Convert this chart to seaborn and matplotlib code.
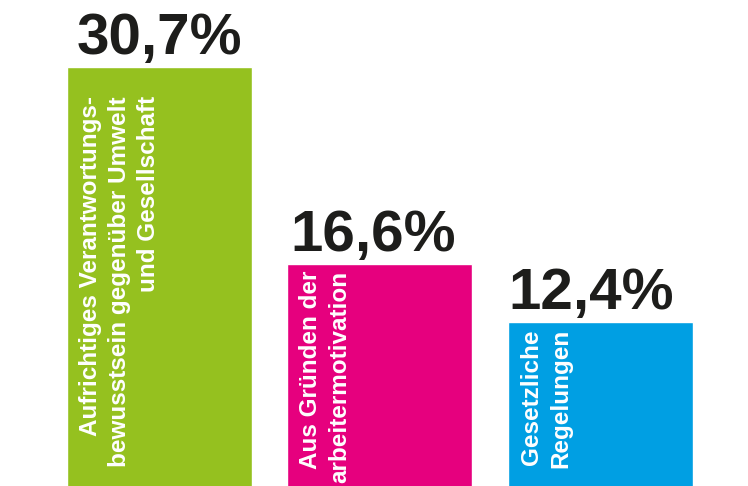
import matplotlib
matplotlib.use('Agg')
import matplotlib.pyplot as plt
import seaborn as sns

# data
categories = ['Aufrichtiges Verantwortungs-\nbewusstsein gegenüber Umwelt\nund Gesellschaft',
              'Aus Gründen der\narbeitermotivation',
              'Gesetzliche\nRegelungen']
values = [30.7, 16.6, 12.4]
colors = ['#95C11F', '#E6007E', '#009FE3']
# how far below the bar top the rotated label starts (points)
inner_drop = [21, 5, 5]
# small horizontal nudge of the value labels (points)
label_shift = [0, -5, -6.5]

sns.set_theme(style='white')
plt.rcParams['font.family'] = ['Liberation Sans', 'DejaVu Sans']

fig = plt.figure(figsize=(7.48, 4.86), dpi=100)
ax = fig.add_axes([0, 0, 1, 1])

sns.barplot(x=list(range(len(values))), y=values, hue=list(range(len(values))),
            palette=colors, width=0.839, legend=False, ax=ax, saturation=1)

# value labels above bars
for i, v in enumerate(values):
    ax.annotate('{:.1f}%'.format(v).replace('.', ','), (i, v),
                xytext=(label_shift[i], 9.5), textcoords='offset points',
                ha='center', va='baseline', fontsize=42, fontweight='bold',
                color='#1d1d1b')

# rotated labels inside bars
for i, (lab, v) in enumerate(zip(categories, values)):
    ax.annotate(lab, (i - 0.839 / 2, v), xytext=(8.5, -inner_drop[i]),
                textcoords='offset points', rotation=90, ha='left', va='top',
                multialignment='right', fontsize=17.5, fontweight='bold',
                color='white', linespacing=1.35)

ax.set_xlim(-0.723, 2.669)
ax.set_ylim(0.65, 35.52)
ax.axis('off')

plt.savefig('out.png', dpi=100)
